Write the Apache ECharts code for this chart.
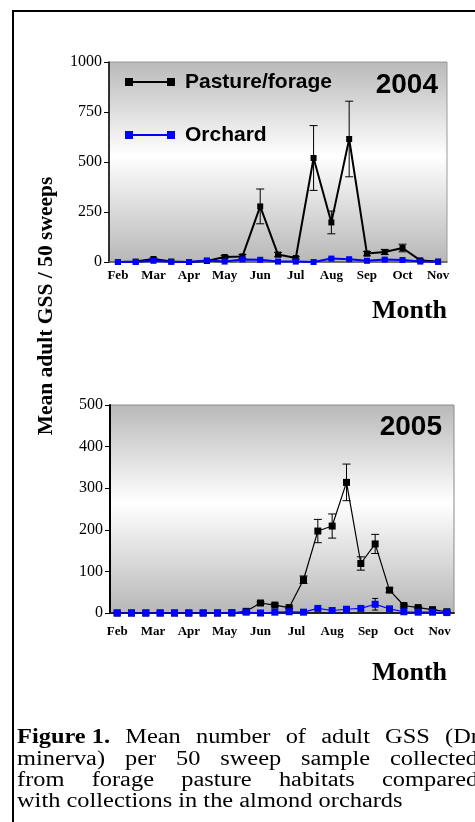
<!DOCTYPE html>
<html>
<head>
<meta charset="utf-8">
<script src="https://cdn.jsdelivr.net/npm/echarts@6/dist/echarts.min.js"></script>
<style>
html,body{margin:0;padding:0;background:#fff;}
#chart{width:475px;height:822px;}
</style>
</head>
<body>
<div id="chart"></div>
<script>
// ---- data ----
const monthTicks = ['Feb','Mar','Apr','May','Jun','Jul','Aug','Sep','Oct','Nov'];
// 2004: 19 sampling dates, month labels on every other date
const pasture2004 = [0, 2, 15, 2, 0, 5, 25, 28, 278, 37, 20, 520, 198, 615, 42, 50, 70, 8, 2];
const pastureSE2004 = [0, 0, 5, 0, 0, 3, 8, 9, 87, 11, 6, 162, 57, 189, 11, 13, 19, 3, 0];
const orchard2004 = [0, 0, 6, 1, 0, 8, 2, 13, 11, 2, 2, 0, 17, 14, 6, 12, 10, 2, 1];
const orchardSE2004 = [0, 0, 2, 0, 0, 2, 0, 3, 2, 0, 0, 0, 4, 3, 0, 5, 3, 0, 0];
// 2005: 24 sampling dates, month labels every 2.5 dates
const pasture2005 = [0, 0, 0, 0, 0, 0, 0, 0, 0, 4, 24, 19, 13, 80, 197, 209, 314, 119, 166, 55, 18, 13, 8, 3];
const pastureSE2005 = [0, 0, 0, 0, 0, 0, 0, 0, 0, 1, 3, 3, 2, 9, 28, 29, 44, 16, 23, 5, 3, 2, 1, 1];
const orchard2005 = [0, 0, 0, 0, 0, 0, 0, 0, 1, 2, 0, 2, 3, 2, 11, 6, 9, 11, 21, 10, 3, 2, 2, 1];
const orchardSE2005 = [0, 0, 0, 0, 0, 0, 0, 0, 0, 0, 0, 0, 0, 0, 2, 0, 0, 2, 14, 2, 0, 0, 0, 0];
const monthPos2005 = [0, 2.5, 5, 7.5, 10, 12.5, 15, 17.5, 20, 22.5];
const yTicks2004 = [0, 250, 500, 750, 1000];
const yTicks2005 = [0, 100, 200, 300, 400, 500];
const captionLines = [
  ['Figure 1.', 'Mean', 'number', 'of', 'adult', 'GSS', '(Draeculacephala'],
  ['minerva)', 'per', '50', 'sweep', 'sample', 'collected'],
  ['from', 'forage', 'pasture', 'habitats', 'compared'],
  ['with', 'collections', 'in', 'the', 'almond', 'orchards']
];

const SERIF = '"Liberation Serif","Times New Roman",serif';
const SANS = '"Liberation Sans",Arial,sans-serif';
const BLACK = '#000000';
const BLUE = '#0000ff';

function errData(mean, se) {
  const out = [];
  mean.forEach((m, i) => { if (se[i] > 0) out.push([i, m - se[i], m + se[i]]); });
  return out;
}
function errRender(color, cap) {
  return function (params, api) {
    const x = api.value(0);
    const lo = api.coord([x, Math.max(0, api.value(1))]);
    const hi = api.coord([x, api.value(2)]);
    const st = { stroke: color, lineWidth: 1 };
    return { type: 'group', children: [
      { type: 'line', shape: { x1: lo[0], y1: lo[1], x2: hi[0], y2: hi[1] }, style: st },
      { type: 'line', shape: { x1: hi[0] - cap, y1: hi[1], x2: hi[0] + cap, y2: hi[1] }, style: st },
      { type: 'line', shape: { x1: lo[0] - cap, y1: lo[1], x2: lo[0] + cap, y2: lo[1] }, style: st }
    ]};
  };
}
const plotBg = {
  type: 'linear', x: 0, y: 0, x2: 0, y2: 1,
  colorStops: [
    { offset: 0, color: '#b9b9b9' },
    { offset: 0.47, color: '#ffffff' },
    { offset: 1, color: '#b7b7b7' }
  ]
};
const legendIcon = 'path://M0,0h8v8h-8zM42,0h8v8h-8zM8,3h34v2h-34z';

// ---- caption layout (justified, horizontally stretched serif text) ----
const CAP_SIZE = 20, CAP_SX = 1.22, CAP_LEFT = 17;
const capCenters = [738, 760, 781, 802];
const capLastLeft = [445, 390, 382, null];
const mctx = document.createElement('canvas').getContext('2d');
function measure(t, bold) {
  mctx.font = (bold ? 'bold ' : '') + CAP_SIZE + 'px "Liberation Serif"';
  return mctx.measureText(t).width * CAP_SX;
}
const captionGraphics = [];
captionLines.forEach((words, li) => {
  const widths = words.map((w, k) => measure(w, li === 0 && k === 0));
  let gap;
  if (capLastLeft[li] != null) {
    const used = widths.slice(0, -1).reduce((a, b) => a + b, 0);
    gap = (capLastLeft[li] - CAP_LEFT - used) / (words.length - 1);
  } else {
    gap = measure(' ', false);
  }
  let x = CAP_LEFT;
  words.forEach((w, k) => {
    const bold = li === 0 && k === 0;
    captionGraphics.push({
      type: 'text', x: x, y: capCenters[li], scaleX: CAP_SX, scaleY: 1, silent: true,
      style: { text: w, fontFamily: SERIF, fontWeight: bold ? 'bold' : 'normal', fontSize: CAP_SIZE,
        fill: '#000', align: 'left', verticalAlign: 'middle' }
    });
    x += widths[k] + gap;
  });
});

const chart = echarts.init(document.getElementById('chart'), null, { renderer: 'canvas' });
const yLabel = { margin: 7, fontFamily: SERIF, fontSize: 16, color: '#000', formatter: (v) => String(v) };
const option = {
  animation: false,
  backgroundColor: '#ffffff',
  grid: [
    { left: 109, top: 62, width: 338, height: 200, show: true, backgroundColor: plotBg, borderColor: '#9a9a9a', borderWidth: 1 },
    { left: 110, top: 405, width: 344, height: 208, show: true, backgroundColor: plotBg, borderColor: '#8a8a8a', borderWidth: 1 }
  ],
  xAxis: [
    { type: 'category', gridIndex: 0, data: pasture2004.map((_, i) => i), boundaryGap: true,
      axisLine: { lineStyle: { color: '#555', width: 1.5 } }, axisTick: { show: false },
      axisLabel: { interval: 0, margin: 7, formatter: (v, i) => (i % 2 === 0 ? monthTicks[i / 2] : ''),
        fontFamily: SERIF, fontWeight: 'bold', fontSize: 13, color: '#000' } },
    { type: 'value', gridIndex: 1, min: -0.5, max: 23.5, splitLine: { show: false },
      axisLine: { onZero: false, lineStyle: { color: '#222', width: 2 } }, axisTick: { show: false },
      axisLabel: { customValues: monthPos2005, margin: 12,
        formatter: (v) => { const k = monthPos2005.indexOf(v); return k >= 0 ? monthTicks[k] : ''; },
        fontFamily: SERIF, fontWeight: 'bold', fontSize: 13, color: '#000', showMinLabel: true, showMaxLabel: true } }
  ],
  yAxis: [
    { type: 'value', gridIndex: 0, min: yTicks2004[0], max: yTicks2004[yTicks2004.length - 1], interval: 250,
      splitLine: { show: false }, axisLine: { show: true, onZero: false, lineStyle: { color: '#000', width: 1.5 } },
      axisTick: { show: true, length: 5, lineStyle: { color: '#000' } }, axisLabel: yLabel },
    { type: 'value', gridIndex: 1, min: yTicks2005[0], max: yTicks2005[yTicks2005.length - 1], interval: 100,
      splitLine: { show: false }, axisLine: { show: true, onZero: false, lineStyle: { color: '#000', width: 2 } },
      axisTick: { show: true, length: 5, lineStyle: { color: '#000' } }, axisLabel: yLabel }
  ],
  legend: {
    left: 120, top: 66, orient: 'vertical', itemGap: 31, itemWidth: 50, itemHeight: 8,
    selectedMode: false,
    textStyle: { fontFamily: SANS, fontWeight: 'bold', fontSize: 21, lineHeight: 22, color: '#000', padding: [0, 0, 0, 5] },
    data: [
      { name: 'Pasture/forage', icon: legendIcon, itemStyle: { color: BLACK } },
      { name: 'Orchard', icon: legendIcon, itemStyle: { color: BLUE } }
    ]
  },
  title: [
    { text: '2004', right: 32, top: 66, textStyle: { fontFamily: SANS, fontWeight: 'bold', fontSize: 28, color: '#000' } },
    { text: '2005', right: 28, top: 408, textStyle: { fontFamily: SANS, fontWeight: 'bold', fontSize: 28, color: '#000' } },
    { text: 'Month', right: 23, top: 293, textStyle: { fontFamily: SERIF, fontWeight: 'bold', fontSize: 26, color: '#000' } },
    { text: 'Month', right: 23, top: 655, textStyle: { fontFamily: SERIF, fontWeight: 'bold', fontSize: 26, color: '#000' } }
  ],
  graphic: [
    { type: 'rect', shape: { x: 13, y: 11, width: 520, height: 880 }, style: { fill: 'none', stroke: '#000', lineWidth: 2 }, silent: true },
    { type: 'text', x: 46, y: 306, rotation: Math.PI / 2, silent: true,
      style: { text: 'Mean adult GSS / 50 sweeps', fontFamily: SERIF, fontWeight: 'bold', fontSize: 21.5, fill: '#000', align: 'center', verticalAlign: 'middle' } }
  ].concat(captionGraphics),
  series: [
    { type: 'custom', name: 'err-p-2004', xAxisIndex: 0, yAxisIndex: 0, data: errData(pasture2004, pastureSE2004), renderItem: errRender(BLACK, 4), z: 1, silent: true },
    { type: 'custom', name: 'err-o-2004', xAxisIndex: 0, yAxisIndex: 0, data: errData(orchard2004, orchardSE2004), renderItem: errRender(BLACK, 3), z: 1, silent: true },
    { type: 'line', name: 'Pasture/forage', xAxisIndex: 0, yAxisIndex: 0, data: pasture2004, symbol: 'rect', symbolSize: 6,
      itemStyle: { color: BLACK }, lineStyle: { color: BLACK, width: 2 }, z: 3 },
    { type: 'line', name: 'Orchard', xAxisIndex: 0, yAxisIndex: 0, data: orchard2004, symbol: 'rect', symbolSize: 6,
      itemStyle: { color: BLUE }, lineStyle: { color: BLUE, width: 2 }, z: 4 },
    { type: 'custom', name: 'err-p-2005', xAxisIndex: 1, yAxisIndex: 1, data: errData(pasture2005, pastureSE2005), renderItem: errRender(BLACK, 4), z: 1, silent: true },
    { type: 'custom', name: 'err-o-2005', xAxisIndex: 1, yAxisIndex: 1, data: errData(orchard2005, orchardSE2005), renderItem: errRender(BLACK, 3), z: 1, silent: true },
    { type: 'line', name: 'Pasture/forage', xAxisIndex: 1, yAxisIndex: 1, data: pasture2005.map((v, i) => [i, v]), symbol: 'rect', symbolSize: 7,
      itemStyle: { color: BLACK }, lineStyle: { color: BLACK, width: 1.2 }, z: 3 },
    { type: 'line', name: 'Orchard', xAxisIndex: 1, yAxisIndex: 1, data: orchard2005.map((v, i) => [i, v]), symbol: 'rect', symbolSize: 7,
      itemStyle: { color: BLUE }, lineStyle: { color: BLUE, width: 1.2 }, z: 4 }
  ]
};
chart.setOption(option);
</script>
</body>
</html>
